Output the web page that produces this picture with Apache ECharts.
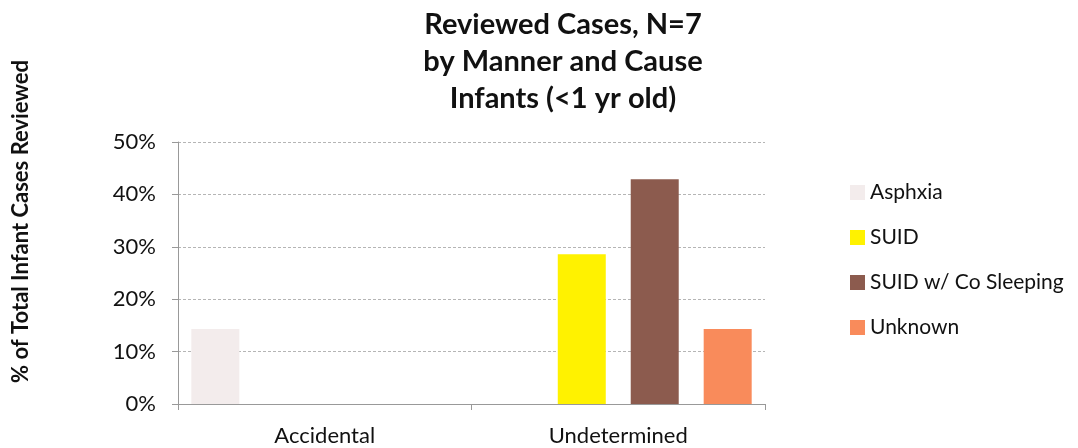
<!DOCTYPE html>
<html>
<head>
<meta charset="utf-8">
<script src="https://cdn.jsdelivr.net/npm/echarts@6/dist/echarts.min.js"></script>
<style>
  html, body { margin: 0; padding: 0; background: #fff; }
  #main { width: 1078px; height: 448px; }
</style>
</head>
<body>
<div id="main"></div>
<script>
var chart = echarts.init(document.getElementById('main'));

// categories and series values (fractions of total, N=7)
var categories = ['Accidental', 'Undetermined'];
var seriesNames = ['Asphxia', 'SUID', 'SUID w/ Co Sleeping', 'Unknown'];
var asphxia = [0.143, 0];
var suid = [0, 0.286];
var suidCoSleeping = [0, 0.429];
var unknown = [0, 0.143];
var colors = ['#f3ecec', '#fff200', '#8c5b4e', '#f98b5b'];

var fontFam = 'Lato, "Noto Sans", sans-serif';
var allData = [asphxia, suid, suidCoSleeping, unknown];

var series = seriesNames.map(function (name, i) {
  return {
    name: name,
    type: 'bar',
    data: allData[i],
    barWidth: 48,
    barGap: '52%',
    itemStyle: { color: colors[i] }
  };
});

var option = {
  animation: false,
  title: {
    text: 'Reviewed Cases, N=7\nby Manner and Cause\nInfants (<1 yr old)',
    left: 558,
    textAlign: 'center',
    top: 1,
    textStyle: {
      fontFamily: fontFam,
      fontWeight: 'bold',
      fontSize: 29,
      lineHeight: 37,
      color: '#111'
    }
  },
  legend: {
    orient: 'vertical',
    left: 845,
    top: 177,
    itemWidth: 15,
    itemHeight: 15,
    itemGap: 24,
    icon: 'rect',
    textStyle: { fontFamily: fontFam, fontSize: 21, color: '#111' },
    data: seriesNames
  },
  grid: { left: 178, right: 313, top: 142, bottom: 44 },
  xAxis: {
    type: 'category',
    data: categories,
    axisLine: { lineStyle: { color: '#999' } },
    axisTick: { show: true, length: 6, lineStyle: { color: '#999' } },
    axisLabel: { fontFamily: fontFam, fontSize: 22, color: '#111', margin: 21 }
  },
  yAxis: {
    type: 'value',
    min: 0,
    max: 0.5,
    interval: 0.1,
    axisLine: { show: true, lineStyle: { color: '#999' } },
    axisTick: { show: true, length: 6, lineStyle: { color: '#999' } },
    splitLine: { lineStyle: { color: '#b5b5b5', type: [3, 2] } },
    axisLabel: {
      fontFamily: fontFam,
      fontSize: 22,
      color: '#111',
      margin: 22,
      formatter: function (v) { return Math.round(v * 100) + '%'; }
    }
  },
  graphic: [{
    type: 'text',
    left: 10,
    top: 60,
    rotation: Math.PI / 2,
    style: {
      text: '% of Total Infant Cases Reviewed',
      fontFamily: fontFam,
      fontWeight: 'bold',
      fontSize: 22,
      fill: '#111'
    }
  }],
  series: series
};

chart.setOption(option);
</script>
</body>
</html>
